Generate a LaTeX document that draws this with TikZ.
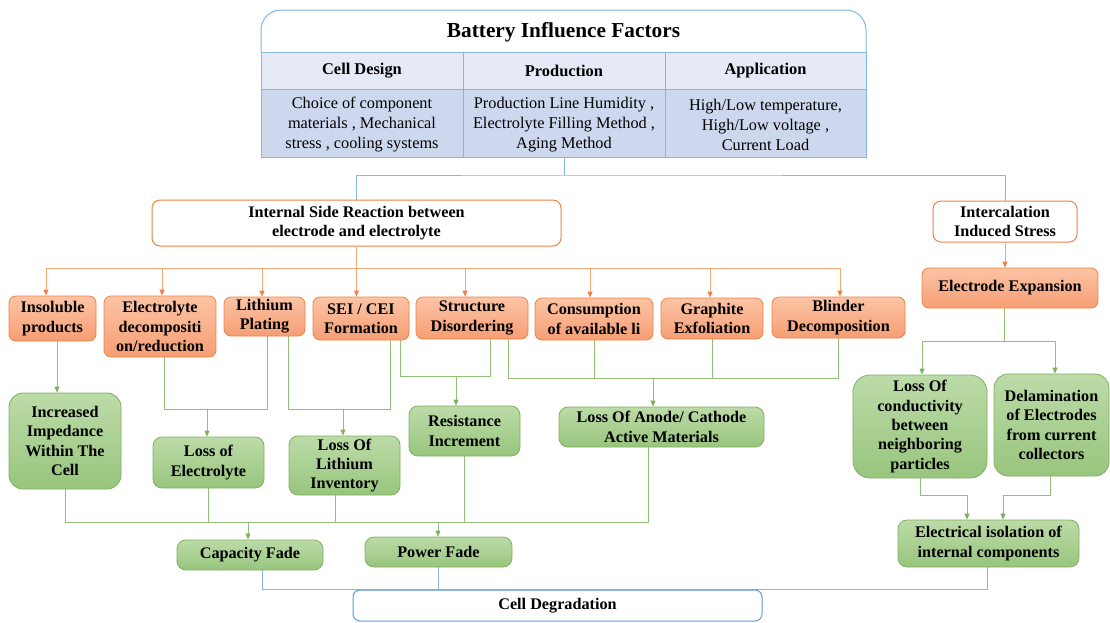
\documentclass[tikz,border=0pt]{standalone}
\usepackage{fontspec}
\setmainfont{Liberation Serif}
\usetikzlibrary{arrows.meta,calc}
\definecolor{orD}{HTML}{EE8243}
\definecolor{orL}{HTML}{F4A778}
\definecolor{orT}{HTML}{FCC4A5}
\definecolor{orM}{HTML}{F69E74}
\definecolor{grD}{HTML}{7FB060}
\definecolor{grL}{HTML}{92BF76}
\definecolor{grT}{HTML}{BCDBA8}
\definecolor{grM}{HTML}{98C57D}
\definecolor{blD}{HTML}{5B9BD5}
\definecolor{blL}{HTML}{86B6E4}
\definecolor{hdr}{HTML}{E6EAF6}
\definecolor{cnt}{HTML}{CDD8EE}
\pgfdeclarelayer{bg}
\pgfsetlayers{bg,main}
\tikzset{
  nf/.style={font=\fontsize{16.2}{19.3}\selectfont\bfseries, align=center, inner sep=1pt},
  obox/.style={nf, rectangle, rounded corners=7pt, draw=orD, line width=0.8pt, top color=orT, bottom color=orM},
  gbox/.style={nf, rectangle, rounded corners=9pt, draw=grD, line width=0.8pt, top color=grT, bottom color=grM},
  wobox/.style={nf, rectangle, rounded corners=8pt, draw=orD, line width=1pt, fill=white},
  wbbox/.style={nf, rectangle, rounded corners=7pt, draw=blD, line width=1pt, fill=white},
  hcell/.style={rectangle, draw=blL, line width=0.9pt, fill=hdr, font=\fontsize{16.4}{19}\selectfont\bfseries, minimum height=37pt, inner sep=0pt},
  ccell/.style={rectangle, draw=blL, line width=0.9pt, fill=cnt, minimum height=68pt, inner sep=0pt},
  ctext/.style={font=\fontsize{16.3}{20}\selectfont, align=center, inner sep=0pt},
  ol/.style={draw=orL, line width=0.9pt},
  oa/.style={ol, -{Triangle[length=6pt,width=5pt,color=orD]}},
  gl/.style={draw=grL, line width=0.9pt},
  ga/.style={gl, -{Triangle[length=6pt,width=5pt,color=grD]}},
  bl/.style={draw=blL, line width=0.9pt},
}
\begin{document}
\begin{tikzpicture}[x=1pt,y=-1pt]
\useasboundingbox (0,0) rectangle (1110,622);

% ---- top table ----
\draw[draw=blL, line width=1pt, fill=white, rounded corners=20pt] (261,52) -- (261,10) -- (866,10) -- (866,52);
\node[font=\fontsize{21.3}{25}\selectfont\bfseries] (title) at (563.5,32.5) {Battery Influence Factors};
\node[hcell, minimum width=202pt] (h1) at (362,70.5) {Cell Design};
\node[hcell, minimum width=202pt] (h2) at (564,70.5) {Production};
\node[hcell, minimum width=201pt] (h3) at (765.5,70.5) {Application};
\node[ccell, minimum width=202pt] (c1) at (362,123) {};
\node[ccell, minimum width=202pt] (c2) at (564,123) {};
\node[ccell, minimum width=201pt] (c3) at (765.5,123) {};
\node[ctext] (t1) at (362,125) {Choice of component\\materials , Mechanical\\stress , cooling systems};
\node[ctext] (t2) at (564,125) {Production Line Humidity ,\\Electrolyte Filling Method ,\\Aging Method};
\node[ctext] (t3) at (765.5,125) {High/Low temperature,\\High/Low voltage ,\\Current Load};

% ---- second level ----
\node[wobox, minimum width=409pt, minimum height=46pt] (isr) at (356.5,223) {Internal Side Reaction between\\electrode and electrolyte};
\node[wobox, minimum width=144pt, minimum height=41pt] (ics) at (1005,221.5) {Intercalation\\Induced Stress};

% ---- orange boxes ----
\node[obox, minimum width=87pt, minimum height=45pt] (ins) at (52.5,318.5) {Insoluble\\products};
\node[obox, minimum width=112pt, minimum height=61pt] (eld) at (160,326.5) {Electrolyte\\decompositi\\on/reduction};
\node[obox, minimum width=81pt, minimum height=39pt] (lip) at (264.5,316.5) {Lithium\\Plating};
\node[obox, minimum width=96pt, minimum height=43pt] (sei) at (361,318.5) {SEI / CEI\\Formation};
\node[obox, minimum width=112pt, minimum height=42pt] (str) at (472,318) {Structure\\Disordering};
\node[obox, minimum width=118pt, minimum height=42pt] (con) at (594,319) {Consumption\\of available li};
\node[obox, minimum width=102pt, minimum height=41pt] (gra) at (712,318.5) {Graphite\\Exfoliation};
\node[obox, minimum width=133pt, minimum height=41pt] (bli) at (838.5,317.5) {Blinder\\Decomposition};
\node[obox, minimum width=176pt, minimum height=40pt] (ee) at (1010,288) {Electrode Expansion};

% ---- green boxes ----
\node[gbox, rounded corners=14pt, minimum width=112pt, minimum height=96pt] (imp) at (65,441) {Increased\\Impedance\\Within The\\Cell};
\node[gbox, minimum width=111pt, minimum height=51pt] (loe) at (208.5,462.5) {Loss of\\Electrolyte};
\node[gbox, minimum width=111pt, minimum height=59pt] (lol) at (344.5,465.5) {Loss Of\\Lithium\\Inventory};
\node[gbox, minimum width=111pt, minimum height=50pt] (res) at (464.5,431) {Resistance\\Increment};
\node[gbox, minimum width=205pt, minimum height=40pt] (loa) at (661.5,427) {Loss Of Anode/ Cathode\\Active Materials};
\node[gbox, rounded corners=17pt, minimum width=134pt, minimum height=103pt] (loc) at (920,426.5) {Loss Of\\conductivity\\between\\neighboring\\particles};
\node[gbox, rounded corners=14pt, minimum width=115pt, minimum height=102pt] (del) at (1051.5,425) {Delamination\\of Electrodes\\from current\\collectors};
\node[gbox, minimum width=146pt, minimum height=30pt] (cf) at (250,555) {Capacity Fade};
\node[gbox, minimum width=147pt, minimum height=30pt] (pf) at (438.5,552) {Power Fade};
\node[gbox, minimum width=181pt, minimum height=47pt] (ei) at (988.5,543.5) {Electrical isolation of\\internal components};
\node[wbbox, minimum width=409pt, minimum height=31pt] (cdeg) at (557.5,605.5) {Cell Degradation};

% ---- junctions ----
\coordinate (jT) at (564,175);
\coordinate (jO) at (0,268);
\coordinate (jA) at (207,409);
\coordinate (jB) at (343,409);
\coordinate (jC) at (456,376);
\coordinate (jD) at (653,378);
\coordinate (jE) at (248,522);
\coordinate (jF) at (438,522);
\coordinate (jG) at (1004,341);
\coordinate (jH) at (967,495);
\coordinate (jI) at (1003,495);

\begin{pgfonlayer}{bg}
% blue top
\draw[bl] (c2.south) -- (jT);
\draw[bl] (isr.north) |- (jT) -| (ics.north);
% orange
\draw[ol] (isr.south) -- (isr.south |- jO);
\draw[ol] (jO -| 46,0) -- (jO -| 840,0);
\draw[oa] (jO -| 46,0) -- (ins.north -| 46,0);
\draw[oa] (jO -| 162,0) -- (eld.north -| 162,0);
\draw[oa] (jO -| 262,0) -- (lip.north -| 262,0);
\draw[oa] (isr.south |- jO) -- (isr.south |- sei.north);
\draw[oa] (jO -| 465,0) -- (str.north -| 465,0);
\draw[oa] (jO -| 590,0) -- (con.north -| 590,0);
\draw[oa] (jO -| 710,0) -- (gra.north -| 710,0);
\draw[oa] (jO -| 840,0) -- (bli.north -| 840,0);
\draw[oa] (ics.south) -- (ics.south |- ee.north);
% green upper
\draw[ga] (ins.south -| 57,0) -- (imp.north -| 57,0);
\draw[gl] (eld.south -| 164,0) |- (jA);
\draw[gl] (lip.south -| 267,0) |- (jA);
\draw[ga] (jA) -- (jA |- loe.north);
\draw[gl] (lip.south -| 288,0) |- (jB);
\draw[gl] (sei.south -| 390,0) |- (jB);
\draw[ga] (jB) -- (jB |- lol.north);
\draw[gl] (sei.south -| 400,0) |- (jC);
\draw[gl] (str.south -| 490,0) |- (jC);
\draw[ga] (jC) -- (jC |- res.north);
\draw[gl] (str.south -| 508,0) |- (jD);
\draw[gl] (con.south) |- (jD);
\draw[gl] (gra.south) |- (jD);
\draw[gl] (bli.south) |- (jD);
\draw[ga] (jD) -- (jD |- loa.north);
% green lower bus
\draw[gl] (imp.south) |- (jE) -- (jF) -| (loa.south -| 648,0);
\draw[gl] (loe.south) -- (loe.south |- jE);
\draw[gl] (lol.south -| 335,0) -- (jE -| 335,0);
\draw[gl] (res.south) -- (res.south |- jE);
\draw[ga] (jE) -- (jE |- cf.north);
\draw[ga] (jF) -- (jF |- pf.north);
% right branch
\draw[gl] (ee.south -| 1004,0) -- (jG);
\draw[ga] (jG) -| (loc.north -| 922,0);
\draw[ga] (jG) -| (del.north -| 1055,0);
\draw[ga] (loc.south) |- (jH) -- (jH |- ei.north);
\draw[ga] (del.south -| 1050,0) |- (jI) -- (jI |- ei.north);
% blue bottom
\draw[bl] (cf.south -| 262,0) |- (cdeg.north);
\draw[bl] (pf.south) -- (pf.south |- cdeg.north);
\draw[bl] (ei.south -| 987,0) |- (cdeg.north);
\end{pgfonlayer}
\end{tikzpicture}
\end{document}
